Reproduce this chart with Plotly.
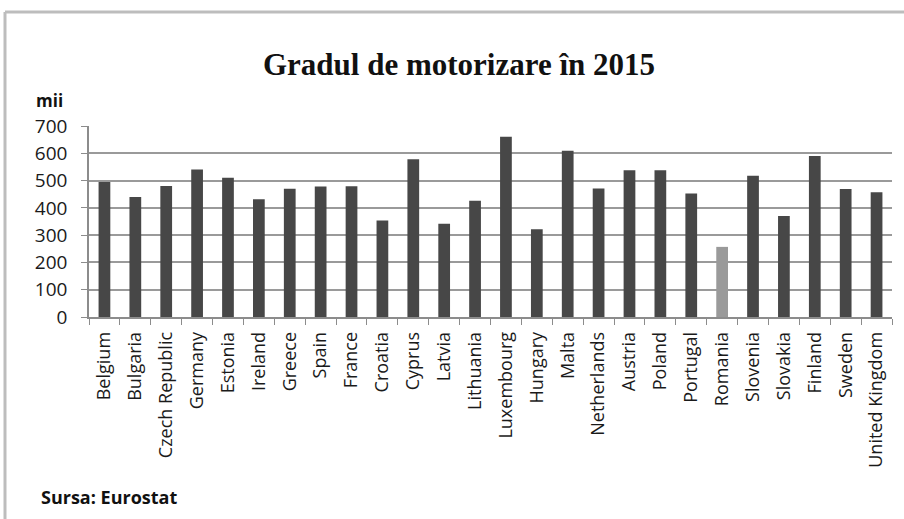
import plotly.graph_objects as go

countries = ["Belgium", "Bulgaria", "Czech Republic", "Germany", "Estonia", "Ireland",
             "Greece", "Spain", "France", "Croatia", "Cyprus", "Latvia", "Lithuania",
             "Luxembourg", "Hungary", "Malta", "Netherlands", "Austria", "Poland",
             "Portugal", "Romania", "Slovenia", "Slovakia", "Finland", "Sweden",
             "United Kingdom"]
values = [495, 440, 480, 541, 510, 432, 470, 478, 479, 354, 578, 342, 426, 661,
          322, 609, 471, 538, 538, 453, 257, 518, 370, 590, 469, 457]
highlight = "Romania"
y_ticks = [0, 100, 200, 300, 400, 500, 600, 700]

W, H = 904, 519
L, R, T, B = 89, 892, 126, 317

def px(x):
    return (x - L) / (R - L)

def py(y):
    return (B - y) / (B - T)

colors = ["#9a9a9a" if c == highlight else "#474747" for c in countries]

fig = go.Figure(go.Bar(x=countries, y=values, marker_color=colors,
                       marker_line_width=0, width=0.38))

fig.update_layout(
    width=W, height=H,
    margin=dict(l=L, r=W - R, t=T, b=H - B, autoexpand=False),
    paper_bgcolor="white", plot_bgcolor="white",
    showlegend=False,
    font=dict(family="Open Sans", color="#1a1a1a"),
)
fig.update_xaxes(
    tickangle=-90, tickfont=dict(size=18, family="Open Sans", color="#1a1a1a"),
    showline=True, linecolor="#8c8c8c", linewidth=1.5,
    ticks="outside", tickson="boundaries", ticklen=6, tickcolor="#8c8c8c",
    ticklabelstandoff=6,
    showgrid=False, range=[-0.5, len(countries) - 0.5], automargin=False,
)
fig.update_yaxes(
    range=[0, 700], tickvals=y_ticks, tickfont=dict(size=19, family="Open Sans", color="#1a1a1a"),
    showgrid=True, gridcolor="#9a9a9a", gridwidth=1.6,
    showline=True, linecolor="#8c8c8c", linewidth=1.5,
    ticks="outside", ticklen=6, tickcolor="#8c8c8c", ticklabelstandoff=10,
    zeroline=False, automargin=False,
)

# outer frame (top and left edges visible in the reference)
fig.add_shape(type="line", xref="paper", yref="paper",
              x0=px(5), x1=px(910), y0=py(12), y1=py(12),
              line=dict(color="#bdbdbd", width=3))
fig.add_shape(type="line", xref="paper", yref="paper",
              x0=px(5), x1=px(5), y0=py(12), y1=py(525),
              line=dict(color="#bdbdbd", width=3))

fig.add_annotation(text="<b>Gradul de motorizare în 2015</b>", xref="paper", yref="paper",
                   x=px(459), y=py(65), showarrow=False, xanchor="center", yanchor="middle",
                   font=dict(family="Liberation Serif", size=31, color="#111111"))
fig.add_annotation(text="<b>mii</b>", xref="paper", yref="paper",
                   x=px(34), y=py(100), showarrow=False, xanchor="left", yanchor="middle",
                   font=dict(family="Open Sans", size=17, color="#111111"))
fig.add_annotation(text="<b>Sursa: Eurostat</b>", xref="paper", yref="paper",
                   x=px(39), y=py(497), showarrow=False, xanchor="left", yanchor="middle",
                   font=dict(family="Open Sans", size=18, color="#111111"))

fig.write_html("out.html", config={"displayModeBar": False},
               post_script="document.body.style.margin='0';")
